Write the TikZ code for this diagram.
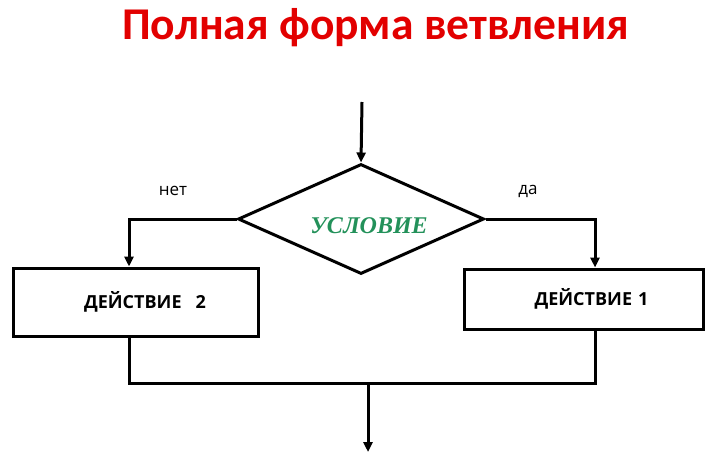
\documentclass[tikz,border=0pt]{standalone}
\usepackage{fontspec}
\setmainfont{Open Sans}
\newfontfamily\titlefont{Carlito}
\newfontfamily\condfont{Liberation Serif}
\usepackage{xcolor}
\usetikzlibrary{arrows.meta,shapes.geometric}
\definecolor{ttl}{RGB}{226,0,0}
\definecolor{cnd}{RGB}{35,145,90}
\tikzset{line/.style={line width=3pt},
  arr/.style={line,-{Triangle[length=10pt,width=9pt]}},
  actbox/.style={draw,line,minimum width=#1,inner sep=0pt,font=\fontsize{18}{21}\selectfont\bfseries},
  actbox/.default=245pt,
  lbl/.style={font=\fontsize{17}{20}\selectfont,anchor=base}}

\begin{document}
\begin{tikzpicture}[x=1pt,y=-1pt]
\useasboundingbox (0,0) rectangle (728,469);
\node[anchor=base,text=ttl,font=\titlefont\fontsize{45.5}{50}\selectfont\bfseries] (title) at (375.5,39) {Полная форма ветвления};
% ветвление
\coordinate (start) at (362,102);
\node[diamond,draw,line,inner sep=0pt,minimum width=246pt,minimum height=110pt] (cond) at (361,219) {};
\node[anchor=base,text=cnd,font=\condfont\fontsize{24}{28}\selectfont\bfseries\itshape] (condtxt) at (369,233) {УСЛОВИЕ};
\node[actbox,minimum height=68pt] (act2) at (135.5,302) {\hspace*{19pt}ДЕЙСТВИЕ\hspace{14pt}2};
\node[actbox=239pt,minimum height=60pt] (act1) at (583.5,299) {\hspace*{16pt}ДЕЙСТВИЕ\hspace{6pt}1};
\node[lbl] (no) at (173,195) {нет};
\node[lbl] (yes) at (528,194) {да};
\coordinate (join) at (368,383);
\coordinate (stop) at (368,452);
\draw[arr] (start)--(cond.north);
\draw[arr] (cond.west) -| ([xshift=-6.5pt]act2.north);
\draw[arr] (cond.east) -| ([xshift=11.5pt]act1.north);
\draw[line] ([xshift=-6.5pt]act2.south) |- (join) -| ([xshift=11.5pt]act1.south);
\draw[arr] (join)--(stop);
\end{tikzpicture}
\end{document}
